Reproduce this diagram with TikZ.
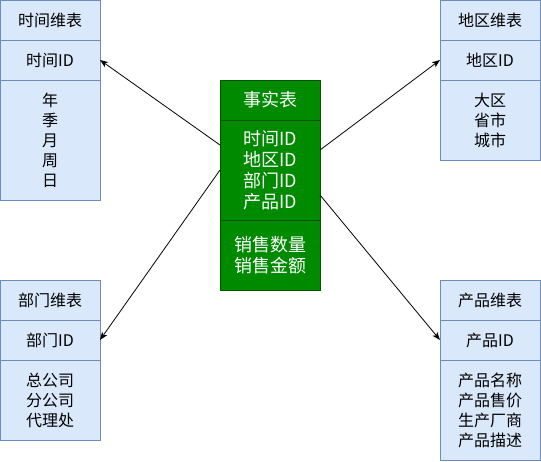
\documentclass[tikz,border=0pt]{standalone}
\usepackage{fontspec}
\setmainfont{Noto Sans CJK SC}
\usepackage{tikz}
\usetikzlibrary{arrows, arrows.meta, calc}

\begin{document}
\begin{tikzpicture}[x=0.75pt,y=-0.75pt,
		dim/.style={draw=dimline, fill=dimfill, line width=0.6pt, minimum width=75pt, outer sep=0pt, inner sep=0pt, align=center, font=\fontsize{12}{15}\selectfont},
		fact/.style={draw=factline, fill=factfill, text=white, line width=0.6pt, minimum width=75pt, outer sep=0pt, inner sep=0pt, align=center, font=\fontsize{13.5}{15.75}\selectfont},
		link/.style={-{Stealth[length=6pt, width=4.5pt, inset=1.5pt]}, line width=0.6pt}]
		\definecolor{dimfill}{HTML}{DAE8FC}
		\definecolor{dimline}{HTML}{6C8EBF}
		\definecolor{factfill}{HTML}{008A00}
		\definecolor{factline}{HTML}{005700}
		\useasboundingbox (0,0) rectangle (541,461);
%
		\node[dim, minimum height=30pt] (Th) at (50,20) {时间维表};
		\node[dim, minimum height=30pt] (Tid) at (50,60) {时间ID};
		\node[dim, minimum height=90pt] (Tb) at (50,140) {年\\季\\月\\周\\日};
%
		\node[dim, minimum height=30pt] (Rh) at (490,20) {地区维表};
		\node[dim, minimum height=30pt] (Rid) at (490,60) {地区ID};
		\node[dim, minimum height=60pt] (Rb) at (490,120) {大区\\省市\\城市};
%
		\node[dim, minimum height=30pt] (Dh) at (50,300) {部门维表};
		\node[dim, minimum height=30pt] (Did) at (50,340) {部门ID};
		\node[dim, minimum height=60pt] (Db) at (50,400) {总公司\\分公司\\代理处};
%
		\node[dim, minimum height=30pt] (Ph) at (490,300) {产品维表};
		\node[dim, minimum height=30pt] (Pid) at (490,340) {产品ID};
		\node[dim, minimum height=75pt] (Pb) at (490,410) {产品名称\\产品售价\\生产厂商\\产品描述};
%
		\node[fact, minimum height=30pt] (Fh) at (270,100) {事实表};
		\node[fact, minimum height=75pt] (Fid) at (270,170) {时间ID\\地区ID\\部门ID\\产品ID};
		\node[fact, minimum height=52.5pt] (Fm) at (270,255) {销售数量\\销售金额};
%
		\draw[link] ($(Fid.west) + (0,-25)$) -- (Tid.east);
		\draw[link] (Fid.west) -- (Did.east);
		\draw[link] ($(Fid.east) + (0,-20)$) -- (Rid.west);
		\draw[link] ($(Fid.east) + (0,25)$) -- (Pid.west);
	\end{tikzpicture}
\end{document}
